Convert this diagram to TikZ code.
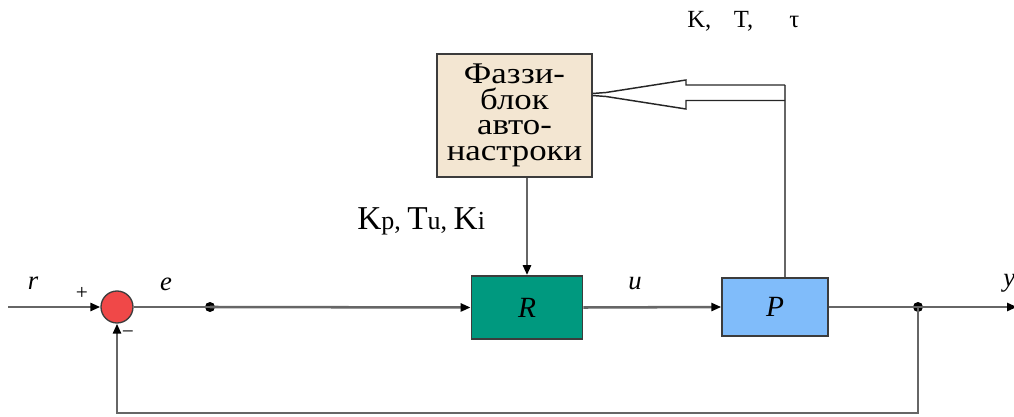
\documentclass[tikz,border=0pt]{standalone}
\usepackage{fontspec}
\setmainfont{Liberation Serif}
\newfontfamily\widefont{Liberation Serif}[FakeStretch=1.16]
\newcommand\fuzzyfont{\widefont\fontsize{22.5}{19.25}\selectfont\lineskiplimit=-20pt\relax}
\usetikzlibrary{arrows.meta}
\definecolor{wirecol}{HTML}{666666}
\definecolor{edgecol}{HTML}{3C3C3C}
\definecolor{rcol}{HTML}{00997F}
\definecolor{pcol}{HTML}{80BCFA}
\definecolor{fuzzcol}{HTML}{F3E6D2}
\definecolor{sumcol}{HTML}{F04848}
\tikzset{
  wire/.style={draw=wirecol, line width=1.9pt},
  tipped/.style={-{Triangle[length=7.5pt,width=6pt,color=black]}},
  block/.style={draw=edgecol, line width=1.1pt, rectangle, inner sep=0pt},
  dotmark/.style={circle, fill=black, inner sep=0pt, minimum size=7.5pt},
  hollow/.style={draw=black!85, line width=1.1pt, line join=miter},
  sig/.style={font=\fontsize{20}{20}\selectfont\itshape, inner sep=0pt},
}
\begin{document}
\begin{tikzpicture}[x=0.75pt,y=-0.75pt]
\useasboundingbox (0,0) rectangle (1014,417);

% summing junction and blocks
\node[circle, draw=edgecol, line width=1pt, fill=sumcol, minimum size=24pt, inner sep=0pt] (S) at (117,307) {};
\node[block, fill=rcol, minimum width=83.5pt, minimum height=47.5pt,
      font=\fontsize{22}{22}\selectfont\itshape] (R) at (527,307.5) {R};
\node[block, fill=pcol, minimum width=79.5pt, minimum height=43.5pt,
      font=\fontsize{22}{22}\selectfont\itshape] (P) at (775,307) {P};
\node[block, fill=fuzzcol, minimum width=116pt, minimum height=92pt, align=center,
      font=\fuzzyfont] (F) at (514.5,115.5)
      {Фаззи-\\блок\\авто-\\настроки};

% branch points and free ends
\node[dotmark] (ed) at (210,307) {};
\node[dotmark] (br) at (918,307) {};
\coordinate (rin) at (8,307);
\coordinate (yout) at (1017,307);
\coordinate (fbl) at (117,413);
\coordinate (tap) at (785,85);

% signal lines
\draw[wire, tipped] (rin) -- (S.west);
\draw[wire] (S.east) -- (ed.center);
\draw[wire, tipped] (ed.center) -- (R.west);
\draw[wire, tipped] (R.east) -- (P.west);
\draw[wire] (P.east) -- (br.center);
\draw[wire, tipped] (br.center) -- (yout);
\draw[wire, tipped] (br.center) |- (fbl) -- (S.south);
\draw[wire, tipped] (F.south -| R.north) -- (R.north);
\draw[wire] (tap |- P.north) -- (tap);

% hollow arrow feeding the plant parameters back
\draw[hollow] (tap) -- (686,85) -- (686,80) -- (606,92.5) -- (F.east |- 0,93.5);
\draw[hollow] (F.east |- 0,95.5) -- (606,96.5) -- (686,109) -- (686,100.5) -- (785,100.5);

% labels
\node[sig] (lr) at (33,283) {r};
\node[sig] (le) at (166,284) {e};
\node[sig] (lu) at (635,284) {u};
\node[sig, anchor=west] (ly) at (1003,283) {y};
\node[font=\fontsize{16}{16}\selectfont, inner sep=0pt] (lp) at (82,293) {+};
\node[font=\fontsize{16}{16}\selectfont, inner sep=0pt] (lm) at (128,335) {−};
\node[anchor=base west, inner sep=0pt] (kpl) at (357,229)
  {\fontsize{25}{25}\selectfont K\fontsize{19.5}{19.5}\selectfont p, \fontsize{25}{25}\selectfont T\fontsize{19.5}{19.5}\selectfont u, \fontsize{25}{25}\selectfont K\fontsize{19.5}{19.5}\selectfont i};
\node[anchor=base west, inner sep=0pt, font=\fontsize{18.5}{18.5}\selectfont] (ktl) at (687,28)
  {K,\hspace*{17pt}T,\hspace*{27pt}τ};
\end{tikzpicture}
\end{document}
